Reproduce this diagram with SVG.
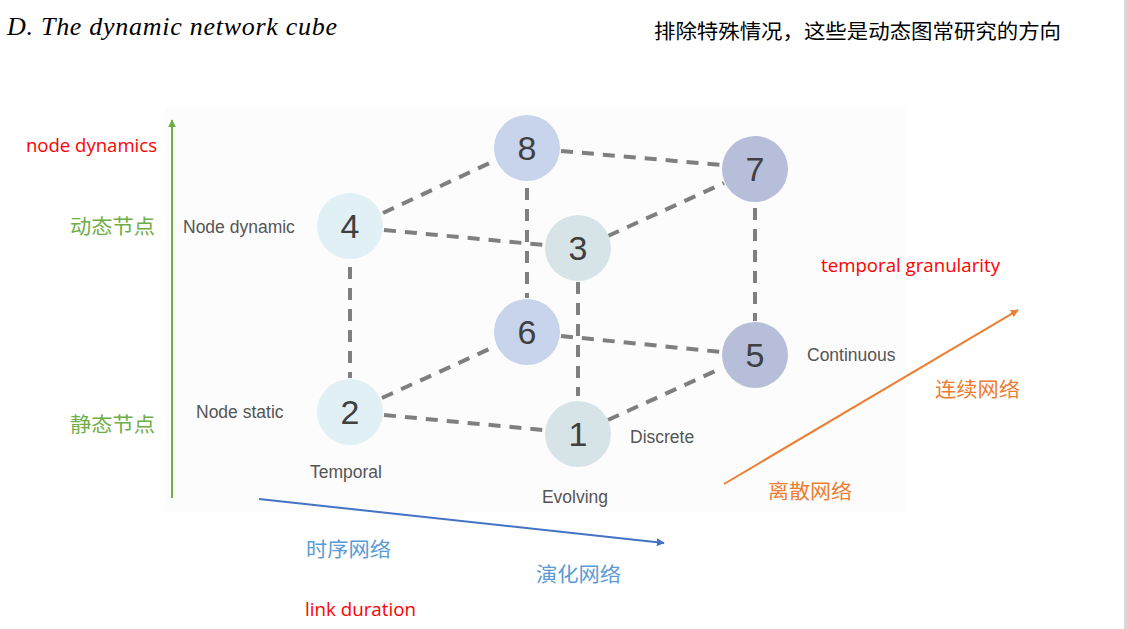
<svg xmlns="http://www.w3.org/2000/svg" width="1127" height="629" viewBox="0 0 1127 629">
  <defs>
    <marker id="arrGreen" viewBox="0 0 10 10" refX="9" refY="5" markerWidth="4" markerHeight="4" orient="auto">
      <path d="M0,0 L10,5 L0,10 z" fill="#70ad47"/>
    </marker>
    <marker id="arrBlue" viewBox="0 0 10 10" refX="9" refY="5" markerWidth="4" markerHeight="4" orient="auto">
      <path d="M0,0 L10,5 L0,10 z" fill="#4472c4"/>
    </marker>
    <marker id="arrOrange" viewBox="0 0 10 10" refX="9" refY="5" markerWidth="4" markerHeight="4" orient="auto">
      <path d="M0,0 L10,5 L0,10 z" fill="#ed7d31"/>
    </marker>
  </defs>
  <style>
    .edge { stroke: #7f7f7f; stroke-width: 4; stroke-dasharray: 12 9; fill: none; }
    .num { font-family: "Liberation Sans", Arial, sans-serif; font-size: 34px; fill: #404040; text-anchor: middle; }
    .lbl { font-family: "Liberation Sans", Arial, sans-serif; font-size: 17.5px; fill: #555555; }
    .red { font-family: "Open Sans", "Liberation Sans", sans-serif; font-size: 18px; fill: #ff0000; }
    .cjk { font-family: "Noto Sans CJK SC", sans-serif; font-size: 20px; }
    .c4 { fill: #e0f0f5; }
    .c3 { fill: #d6e4e8; }
    .c8 { fill: #c8d3ec; }
    .c7 { fill: #b6bed9; }
  </style>

  <rect width="1127" height="629" fill="#ffffff"/>
  <!-- faint panel behind the cube -->
  <rect x="165" y="107" width="740" height="405" fill="#fcfcfc"/>
  <!-- slide edge -->
  <rect x="1124" y="0" width="3" height="629" fill="#d9d9d9"/>

  <!-- headings -->
  <text x="7" y="35" font-family="Liberation Serif, serif" font-style="italic" font-size="26" fill="#000" textLength="330" lengthAdjust="spacing">D. The dynamic network cube</text>
  <text x="654" y="39" class="cjk" fill="#000" textLength="407" lengthAdjust="spacingAndGlyphs">排除特殊情况，这些是动态图常研究的方向</text>

  <!-- cube edges -->
  <g id="connectors">
    <line class="edge" x1="383" y1="213" x2="496" y2="160"/>
    <line class="edge" x1="561" y1="151" x2="722" y2="165"/>
    <line class="edge" x1="384" y1="230" x2="544" y2="245"/>
    <line class="edge" x1="608" y1="236" x2="724" y2="183"/>
    <line class="edge" x1="527" y1="188" x2="527" y2="298"/>
    <line class="edge" x1="350" y1="267" x2="350" y2="378"/>
    <line class="edge" x1="578" y1="282" x2="578" y2="396"/>
    <line class="edge" x1="755" y1="208" x2="755" y2="321"/>
    <line class="edge" x1="382" y1="398" x2="496" y2="346"/>
    <line class="edge" x1="561" y1="336" x2="721" y2="352"/>
    <line class="edge" x1="384" y1="415" x2="543" y2="430"/>
    <line class="edge" x1="608" y1="420" x2="722" y2="368"/>
  </g>

  <!-- cube corners -->
  <g id="node8"><circle class="c8" cx="527" cy="148" r="33"/><text class="num" x="527" y="160">8</text></g>
  <g id="node7"><circle class="c7" cx="755" cy="169" r="33"/><text class="num" x="755" y="181">7</text></g>
  <g id="node4"><circle class="c4" cx="350" cy="226" r="33"/><text class="num" x="350" y="238">4</text></g>
  <g id="node3"><circle class="c3" cx="578" cy="248" r="33"/><text class="num" x="578" y="260">3</text></g>
  <g id="node6"><circle class="c8" cx="527" cy="332" r="33"/><text class="num" x="527" y="344">6</text></g>
  <g id="node5"><circle class="c7" cx="755" cy="355" r="33"/><text class="num" x="755" y="367">5</text></g>
  <g id="node2"><circle class="c4" cx="350" cy="412" r="33"/><text class="num" x="350" y="424">2</text></g>
  <g id="node1"><circle class="c3" cx="578" cy="434" r="33"/><text class="num" x="578" y="446">1</text></g>

  <!-- axis labels of the cube -->
  <g id="cube-labels">
    <text class="lbl" x="183" y="233">Node dynamic</text>
    <text class="lbl" x="196" y="418">Node static</text>
    <text class="lbl" x="346" y="478" text-anchor="middle">Temporal</text>
    <text class="lbl" x="575" y="503" text-anchor="middle">Evolving</text>
    <text class="lbl" x="630" y="443">Discrete</text>
    <text class="lbl" x="807" y="361">Continuous</text>
  </g>

  <!-- node dynamics axis -->
  <g id="axis-node">
    <line x1="172" y1="498" x2="172" y2="120" stroke="#70ad47" stroke-width="2" marker-end="url(#arrGreen)"/>
    <text class="red" x="26" y="152" textLength="131" lengthAdjust="spacingAndGlyphs">node dynamics</text>
    <text class="cjk" x="70" y="234" fill="#70ad47" textLength="85" lengthAdjust="spacingAndGlyphs">动态节点</text>
    <text class="cjk" x="70" y="432" fill="#70ad47" textLength="85" lengthAdjust="spacingAndGlyphs">静态节点</text>
  </g>

  <!-- link duration axis -->
  <g id="axis-link">
    <line x1="259" y1="499" x2="664" y2="543" stroke="#4472c4" stroke-width="2" marker-end="url(#arrBlue)"/>
    <text class="cjk" x="306" y="557" fill="#5b9bd5" textLength="85" lengthAdjust="spacingAndGlyphs">时序网络</text>
    <text class="cjk" x="536" y="582" fill="#5b9bd5" textLength="85" lengthAdjust="spacingAndGlyphs">演化网络</text>
    <text class="red" x="305" y="616" textLength="111" lengthAdjust="spacingAndGlyphs">link duration</text>
  </g>

  <!-- temporal granularity axis -->
  <g id="axis-granularity">
    <line x1="724" y1="484" x2="1018" y2="310" stroke="#ed7d31" stroke-width="2" marker-end="url(#arrOrange)"/>
    <text class="red" x="821" y="272" textLength="179" lengthAdjust="spacingAndGlyphs">temporal granularity</text>
    <text class="cjk" x="935" y="397" fill="#ed7d31" textLength="85" lengthAdjust="spacingAndGlyphs">连续网络</text>
    <text class="cjk" x="768" y="499" fill="#ed7d31" textLength="84" lengthAdjust="spacingAndGlyphs">离散网络</text>
  </g>
</svg>
